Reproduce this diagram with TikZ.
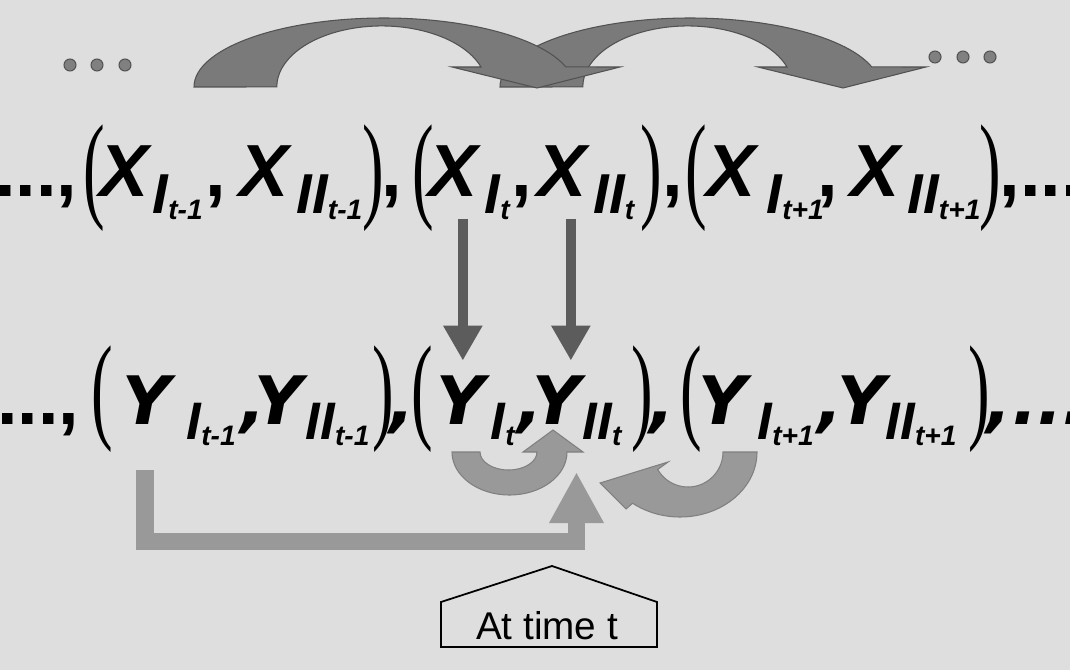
\documentclass[tikz,border=0pt]{standalone}
\usepackage{fontspec}
\usepackage{graphicx}
\setmainfont{Liberation Sans}
\newfontfamily\yfont{DejaVu Sans}
\newfontfamily\pfont{Liberation Serif}
\usepackage{tikz}
\usetikzlibrary{arrows.meta,calc,positioning}

% second level index (t-1, t, t+1)
\newcommand{\tsub}[1]{\raisebox{-0.06cm}{\rmfamily\fontsize{8}{8}\selectfont #1}}
% tall narrow bracket
\newcommand{\tallbr}[1]{\scalebox{0.55}[1]{#1}}

\tikzset{
  xlet/.style={font=\fontsize{21}{21}\selectfont\bfseries\itshape, inner sep=0pt, anchor=base west},
  xsub/.style={font=\fontsize{16}{16}\selectfont\bfseries\itshape, inner sep=0pt, anchor=base west},
  ylet/.style={font=\yfont\fontsize{19}{19}\selectfont\bfseries\itshape, inner sep=0pt, anchor=base west},
  ysub/.style={font=\fontsize{15}{15}\selectfont\bfseries\itshape, inner sep=0pt, anchor=base west},
  brk/.style={font=\pfont\fontsize{33.5}{33.5}\selectfont, inner sep=0pt, anchor=base west},
  sepx/.style={font=\fontsize{21}{21}\selectfont\bfseries, inner sep=0pt, anchor=base west},
  toparr/.style={fill=black!52, draw=black!68, line width=0.3pt},
  botarr/.style={fill=black!40, draw=black!50, line width=0.3pt},
  downarr/.style={draw=black!64, line width=0.1cm, -{Triangle[width=0.37cm, length=0.35cm]}},
  lbar/.style={draw=black!40, line width=0.17cm, miter limit=10, line join=miter, -{Triangle[width=0.51cm, length=0.51cm]}},
  dotfill/.style={fill=black!50, draw=black!68, line width=0.3pt}
}

\begin{document}
\begin{tikzpicture}[x=0.01cm, y=-0.01cm]
        % background
        \useasboundingbox (0,0) rectangle (1070,670);
        \clip (0,0) rectangle (1070,670);
        \fill[black!13] (0,0) rectangle (1070,670);
        % jumps in time above the X row
        \begin{scope}[shift={(306,0)}]
          \filldraw[toparr] (194,87) arc[start angle=180, end angle=343.1, x radius=190, y radius=69] -- (620,67) -- (537,88) -- (452,67) -- (481,67) arc[start angle=340.9, end angle=180, x radius=105, y radius=61] -- cycle;
        \end{scope}
        \filldraw[toparr] (194,87) arc[start angle=180, end angle=343.1, x radius=190, y radius=69] -- (620,67) -- (537,88) -- (452,67) -- (481,67) arc[start angle=340.9, end angle=180, x radius=105, y radius=61] -- cycle;
        \foreach \cx in {70,97,125} \filldraw[dotfill] (\cx,65) circle[radius=6];
        \foreach \cx in {935,963,990} \filldraw[dotfill] (\cx,57) circle[radius=6];

        % row X
        \node[sepx, anchor=base east] (xdl) at (78,196) {....,};
        \node[brk] (xlp1) at (83,206) {\tallbr{(}};
        \node[xlet] (xIprev) at (99,196) {X};
        \node[xsub] (xIprevs) at (152,213) {I\tsub{t-1}};
        \node[sepx] (xcm1) at (205,196) {,};
        \node[xlet] (xIIprev) at (239,196) {X};
        \node[xsub] (xIIprevs) at (296,213) {II\tsub{t-1}};
        \node[brk] (xrp1) at (362,206) {\tallbr{)}};
        \node[sepx] (xcm2) at (381,196) {,};
        \node[brk] (xlp2) at (412,206) {\tallbr{(}};
        \node[xlet] (xIcur) at (428,196) {X};
        \node[xsub] (xIcurs) at (484,213) {I\tsub{t}};
        \node[sepx] (xcm3) at (511,196) {,};
        \node[xlet] (xIIcur) at (537,196) {X};
        \node[xsub] (xIIcurs) at (593,213) {II\tsub{t}};
        \node[brk] (xrp2) at (640,206) {\tallbr{)}};
        \node[sepx] (xcm4) at (662,196) {,};
        \node[brk] (xlp3) at (685,206) {\tallbr{(}};
        \node[xlet] (xInext) at (706,196) {X};
        \node[xsub] (xInexts) at (766,213) {I\tsub{t+1}};
        \node[sepx] (xcm5) at (817,196) {,};
        \node[xlet] (xIInext) at (850,196) {X};
        \node[xsub] (xIInexts) at (907,213) {II\tsub{t+1}};
        \node[brk] (xrp3) at (979,206) {\tallbr{)}};
        \node[sepx] (xdr) at (999,196) {,....};

        % row Y
        \node[sepx, anchor=base east] (ydl) at (80,424) {....,};
        \node[brk] (ylp1) at (91,427) {\tallbr{(}};
        \node[ylet] (yIprev) at (122,424) {Y};
        \node[ysub] (yIprevs) at (186,439) {I\tsub{t-1}};
        \node[ylet] (ycm1) at (240,424) {,};
        \node[ylet] (yIIprev) at (254,424) {Y};
        \node[ysub] (yIIprevs) at (305,439) {II\tsub{t-1}};
        \node[brk] (yrp1) at (372,427) {\tallbr{)}};
        \node[ylet] (ycm2) at (389,424) {,};
        \node[brk] (ylp2) at (411,427) {\tallbr{(}};
        \node[ylet] (yIcur) at (436,424) {Y};
        \node[ysub] (yIcurs) at (490,439) {I\tsub{t}};
        \node[ylet] (ycm3) at (517,424) {,};
        \node[ylet] (yIIcur) at (532,424) {Y};
        \node[ysub] (yIIcurs) at (582,439) {II\tsub{t}};
        \node[brk] (yrp2) at (631,427) {\tallbr{)}};
        \node[ylet] (ycm4) at (649,424) {,};
        \node[brk] (ylp3) at (680,427) {\tallbr{(}};
        \node[ylet] (yInext) at (698,424) {Y};
        \node[ysub] (yInexts) at (757,439) {I\tsub{t+1}};
        \node[ylet] (ycm5) at (817,424) {,};
        \node[ylet] (yIInext) at (837,424) {Y};
        \node[ysub] (yIInexts) at (885,439) {II\tsub{t+1}};
        \node[brk] (yrp3) at (968,427) {\tallbr{)}};
        \node[ylet] (ydr) at (986,424) {,....};

        % X causes Y
        \draw[downarr, shorten <=0.22cm, shorten >=0.14cm] ([xshift=0.095cm]xIcur.south) -- ([xshift=0.095cm]xIcur.south |- yIcur.north);
        \draw[downarr, shorten <=0.22cm, shorten >=0.14cm] ([xshift=0.085cm]xIIcur.south) -- ([xshift=0.085cm]xIIcur.south |- yIIcur.north);

        % feedback among the Y
        \filldraw[botarr] (452,452) arc[start angle=180, end angle=0, x radius=57.5, y radius=43] -- (583,452) -- (553,430) -- (523,452) -- (537,452) arc[start angle=0, end angle=180, x radius=28.5, y radius=18] -- cycle;
        \filldraw[botarr] (757,452) arc[start angle=0, end angle=128, x radius=77, y radius=65] -- (626,509) -- (600,483) -- (668,462) -- (657.7,469.5) arc[start angle=150, end angle=0, x radius=35, y radius=35] -- cycle;
        \coordinate (lfrom) at (145,470);
        \coordinate (lto) at (576.5,472);
        \draw[lbar] (lfrom) |- ($(lto)+(0,69.5)$) -- (lto);

        % label
        \node[font=\fontsize{11}{11}\selectfont, inner sep=0pt] (timelbl) at (547,626) {At time t};
        \draw[line width=0.5pt] (441,647) -- (441,602) -- (552,566) -- (657,602) -- (657,647) -- cycle;
\end{tikzpicture}
\end{document}
